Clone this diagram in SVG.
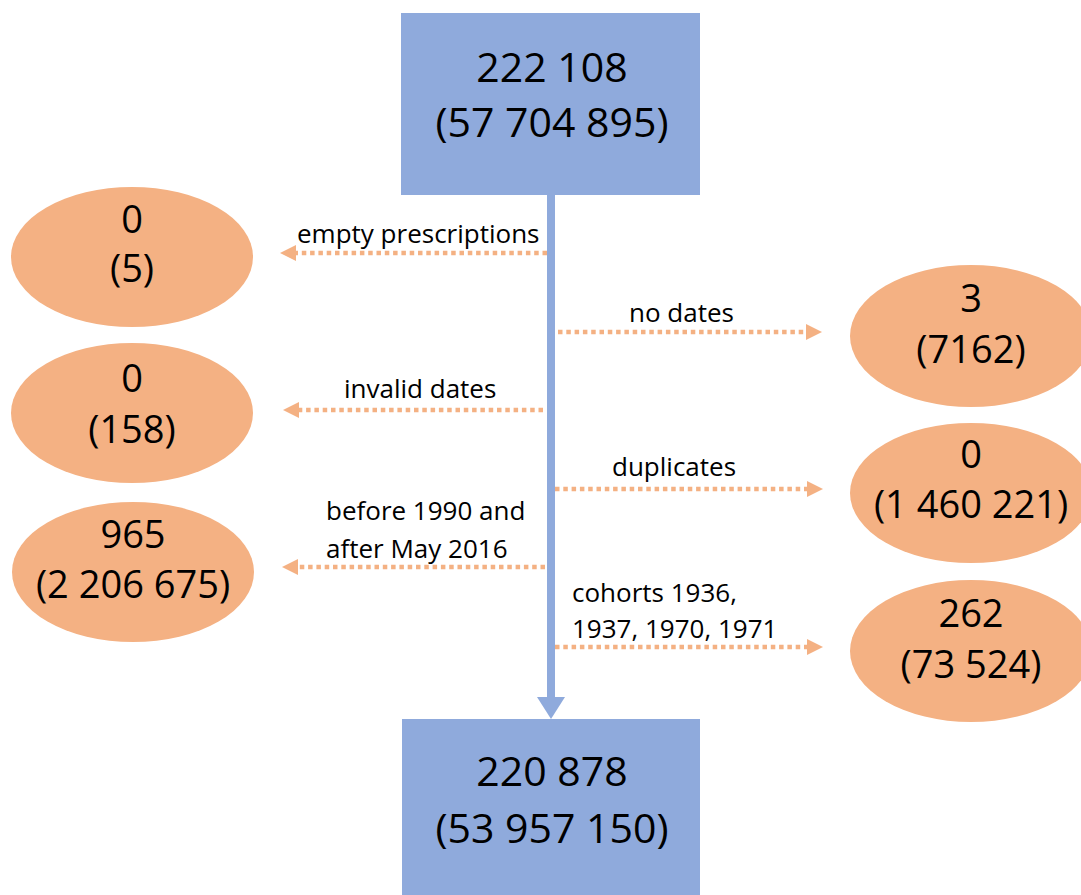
<svg xmlns="http://www.w3.org/2000/svg" width="1081" height="895" viewBox="0 0 1081 895">
<style>
.box{fill:#8FAADC}
.ell{fill:#F4B183}
.big{font-family:"Open Sans","Liberation Sans",sans-serif;font-size:41px;fill:#000;text-anchor:middle}
.mid{font-family:"Open Sans","Liberation Sans",sans-serif;font-size:38px;fill:#000;text-anchor:middle}
.lbl{font-family:"Open Sans","Liberation Sans",sans-serif;font-size:26px;fill:#000}
.dot{stroke:#F4B183;stroke-width:4.5;stroke-dasharray:4.5 3.8;fill:none}
.head{fill:#F4B183}
</style>
<rect width="1081" height="895" fill="#fff"/>
<g id="connectors">
  <rect x="547" y="195" width="8" height="503" fill="#8FAADC"/>
  <polygon points="537,697 565,697 551,719" fill="#8FAADC"/>
  <line class="dot" x1="547" y1="253" x2="294" y2="253"/>
  <polygon class="head" points="280,253 296,245 296,261"/>
  <line class="dot" x1="543" y1="410" x2="297" y2="410"/>
  <polygon class="head" points="283,410 299,402 299,418"/>
  <line class="dot" x1="545" y1="567" x2="296" y2="567"/>
  <polygon class="head" points="282,567 298,559 298,575"/>
  <line class="dot" x1="558" y1="332" x2="808" y2="332"/>
  <polygon class="head" points="822,332 806,324 806,340"/>
  <line class="dot" x1="555" y1="489" x2="809" y2="489"/>
  <polygon class="head" points="823,489 807,481 807,497"/>
  <line class="dot" x1="555" y1="647" x2="809" y2="647"/>
  <polygon class="head" points="823,647 807,639 807,655"/>
  <text class="lbl" x="297" y="243">empty prescriptions</text>
  <text class="lbl" x="629" y="322">no dates</text>
  <text class="lbl" x="344" y="398">invalid dates</text>
  <text class="lbl" x="612" y="476">duplicates</text>
  <text class="lbl" x="326" y="520">before 1990 and</text>
  <text class="lbl" x="326" y="558">after May 2016</text>
  <text class="lbl" x="572" y="602">cohorts 1936,</text>
  <text class="lbl" x="572" y="638">1937, 1970, 1971</text>
</g>
<g id="top">
  <rect class="box" x="401" y="13" width="299" height="182"/>
  <text class="big" x="552" y="82">222 108</text>
  <text class="big" x="552" y="137">(57 704 895)</text>
</g>
<g id="bottom">
  <rect class="box" x="402" y="719" width="298" height="176"/>
  <text class="big" x="552" y="786">220 878</text>
  <text class="big" x="552" y="843">(53 957 150)</text>
</g>
<g id="empty">
  <ellipse class="ell" cx="132" cy="257" rx="121" ry="70"/>
  <text class="mid" x="132" y="233">0</text>
  <text class="mid" x="132" y="282">(5)</text>
</g>
<g id="invalid">
  <ellipse class="ell" cx="132" cy="413" rx="121" ry="70"/>
  <text class="mid" x="132" y="392">0</text>
  <text class="mid" x="132" y="443">(158)</text>
</g>
<g id="before">
  <ellipse class="ell" cx="133" cy="572" rx="121" ry="70"/>
  <text class="mid" x="133" y="548">965</text>
  <text class="mid" x="133" y="598">(2 206 675)</text>
</g>
<g id="nodates">
  <ellipse class="ell" cx="971" cy="336" rx="121" ry="71"/>
  <text class="mid" x="971" y="312">3</text>
  <text class="mid" x="971" y="363">(7162)</text>
</g>
<g id="duplicates">
  <ellipse class="ell" cx="971" cy="493" rx="121" ry="70"/>
  <text class="mid" x="971" y="468">0</text>
  <text class="mid" x="971" y="518">(1 460 221)</text>
</g>
<g id="cohorts">
  <ellipse class="ell" cx="971" cy="651" rx="121" ry="71"/>
  <text class="mid" x="971" y="627">262</text>
  <text class="mid" x="971" y="678">(73 524)</text>
</g>
</svg>
